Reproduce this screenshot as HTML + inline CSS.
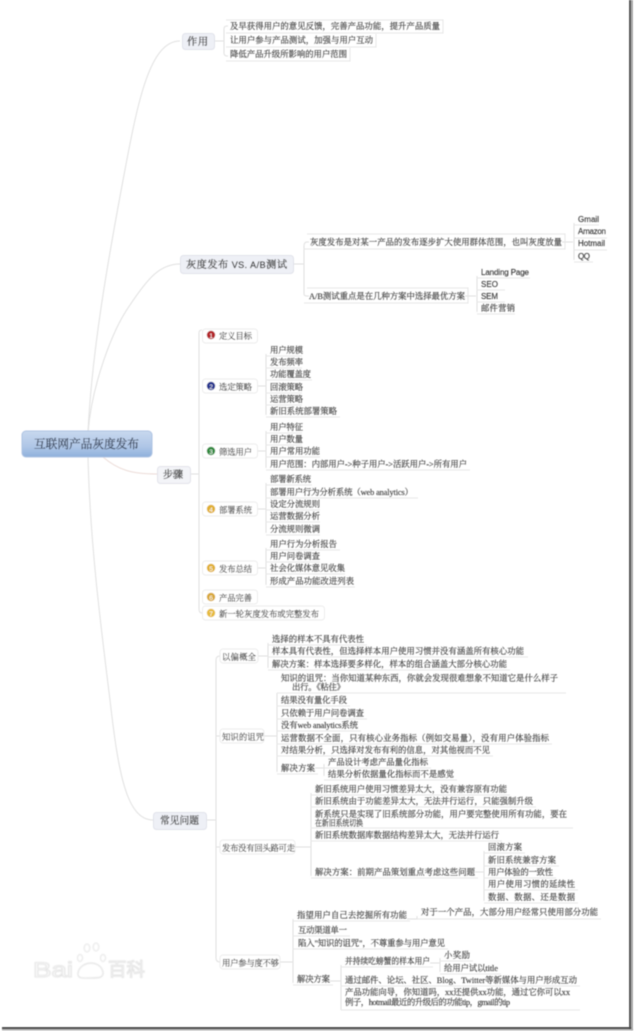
<!DOCTYPE html>
<html lang="zh"><head><meta charset="utf-8"><title>互联网产品灰度发布</title>
<style>
html,body{margin:0;padding:0;background:#fff;width:634px;height:1031px;overflow:hidden}
svg{display:block;position:absolute;left:0;top:0}
text{font-family:"Liberation Serif","Noto Serif CJK SC",serif;font-size:8.4px;fill:#3a3a3a;stroke:#555;stroke-width:.18}
.s{font-family:"Liberation Sans","Noto Sans CJK SC",sans-serif;font-size:8px;fill:#333}
.m{font-size:10.2px;fill:#333338;stroke-width:.35}
.r{font-size:11.700px;fill:#3d4a60;stroke:#3d4a60;stroke-width:.3}
.c{stroke:#e0e0e0;fill:none;stroke-width:1}
.u{stroke:#e6e6e6;fill:none;stroke-width:1}
.t{fill:#eef0f6;stroke:#e0e2ea;stroke-width:1}
.b{fill:#fff;stroke:#ececec;stroke-width:1}
.w{font-family:"Liberation Sans",sans-serif;fill:#fff;stroke:#e4e4e4;stroke-width:1}
</style></head><body>
<svg width="634" height="1031" viewBox="0 0 634 1031" xmlns="http://www.w3.org/2000/svg">
<defs>
<filter id="bl" x="-5%" y="-5%" width="110%" height="110%"><feGaussianBlur stdDeviation="0.45"/></filter>
<filter id="bl2" x="-5%" y="-5%" width="110%" height="110%"><feGaussianBlur stdDeviation="0.7"/></filter>
<linearGradient id="rg" x1="0" y1="0" x2="0" y2="1"><stop offset="0" stop-color="#c8d8ee"/><stop offset="0.6" stop-color="#afc6e6"/><stop offset="1" stop-color="#8fb0dc"/></linearGradient>
</defs>
<rect width="634" height="1031" fill="#fff"/>
<rect x="631" y="0" width="2" height="1030" fill="#a8a8a8" filter="url(#bl)"/>
<rect x="629" y="0" width="2.200" height="1029" fill="#555" filter="url(#bl)"/>
<rect x="2" y="1029" width="631" height="1.500" fill="#b0b0b0" filter="url(#bl)"/>
<rect x="2" y="1027" width="629" height="2.200" fill="#505050" filter="url(#bl)"/>

<g filter="url(#bl2)">
<text class="w" x="33" y="977" style="font-size:21px" textLength="40" lengthAdjust="spacingAndGlyphs">Bai</text>
<text class="w" x="108" y="976" style="font-size:18.500px;font-family:'Noto Sans CJK SC',sans-serif" textLength="37" lengthAdjust="spacingAndGlyphs">百科</text>
<path d="M78 973c2-12 22-14 25-1 1 6-5 6-12 6-8 0-14 1-13-5z" fill="#fff" stroke="#e2e2e2" stroke-width="1.200"/>
<ellipse cx="80" cy="958" rx="2.500" ry="3.500" fill="#fff" stroke="#e4e4e4"/><ellipse cx="87" cy="948" rx="2.800" ry="4" fill="#fff" stroke="#e4e4e4"/><ellipse cx="96" cy="947" rx="2.800" ry="4" fill="#fff" stroke="#e4e4e4"/><ellipse cx="103" cy="958" rx="2.500" ry="3.500" fill="#fff" stroke="#e4e4e4"/>
</g>

<g filter="url(#bl)">
<path class="c" d="M88 432C92 350 108 260 124 175C138 100 150 41 180 41"/>
<path class="c" d="M88 432C92 385 112 330 130 305C148 278 160 264 180 264"/>
<path class="c" style="stroke:#ecdcd8" d="M103 457C118 470 132 474 157 474"/>
<path class="c" d="M88 457C90 540 100 620 110 700C118 770 126 820 153 820"/>

<path class="c" d="M214 41H224M224 29V53M224 29q0-3 3-3h1M224 53q0 3 3 3h1"/>
<path class="c" d="M293 264H304M304 246V294M304 246q0-4 3-4h2M304 294q0 2 3 2h2"/>
<path class="c" d="M562 242H573M574 223V260"/>
<path class="c" d="M465 296H476M477 276V312"/>
<path class="c" d="M190 474H199M199 333V609M199 333q0-3 3-3M199 609q0 4 3 4"/>
<path class="c" d="M257 386H266M266 354V415"/>
<path class="c" d="M257 451H266M266 431V468"/>
<path class="c" d="M257 509H266M266 483V533"/>
<path class="c" d="M257 568H266M266 548V585"/>
<path class="c" d="M206 820H216M216 660V958M216 660q0-4 4-4M216 958q0 4 4 4M216 736h6M216 847h6"/>
<path class="c" d="M258 656H268M268 643V668"/>
<path class="c" d="M264 736H277M277 693V772"/>
<path class="c" d="M315 768H324M324 764V776"/>
<path class="c" d="M295 847H311M311 793V876"/>
<path class="c" d="M475 872H484M484 851V901"/>
<path class="c" d="M280 962H293M293 919V983"/>
<path class="c" d="M330 981H341M341 965V1010"/>
<path class="c" d="M430 963H440M440 958V972"/>
<path class="c" d="M407 919H417M417 916V919"/>

<path class="u" d="M226 33H443V20H226M226 47H376V34M226 61H350V48M304 249H565V234H307M304 303H468V288H307M574 225H599M574 238H607M574 250H607M574 262H593M477 278H530M477 290H505M477 302H505M477 314H515"/>
<path class="u" d="M266 356H302M266 368H302M266 380H312M266 393H302M266 405H302M266 417H340M266 433H302M266 445H302M266 457H320M266 470H470M266 485H312M266 498H418M266 510H320M266 522H320M266 535H320M266 550H340M266 562H320M266 574H345M266 587H355"/>
<path class="u" d="M268 645H367M268 657H528M268 670H510M277 693H566M277 706H350M277 719H367M277 731H361M277 744H552M277 756H493M277 774H318M324 768H431M324 780H457"/>
<path class="u" d="M311 795H510M311 807H536M311 828H573M311 841H502M311 878H478M484 853H525M484 866H559M484 878H556M484 890H578M484 903H578"/>
<path class="u" d="M293 921H410M417 919H601M293 936H350M293 949H448M293 985H333M341 967H433M440 961H473M440 974H501M341 986H580M341 1010H580"/>

<rect class="t" x="182.500" y="33.500" width="32" height="16" rx="3"/>
<rect class="t" x="180.500" y="255.500" width="113" height="18" rx="3"/>
<rect x="22" y="431" width="130" height="26" rx="4" fill="url(#rg)" stroke="#adc3e2"/>
<rect x="157.500" y="466.500" width="33" height="17" rx="3" fill="#f3f4f8" stroke="#e2e3ea"/>
<rect class="t" x="153.500" y="812.500" width="53" height="17" rx="3"/>

<rect class="b" x="202.500" y="329" width="55" height="14" rx="3"/>
<rect class="b" x="202.500" y="379" width="55" height="14" rx="3"/>
<rect class="b" x="202.500" y="444" width="55" height="14" rx="3"/>
<rect class="b" x="202.500" y="502" width="55" height="14" rx="3"/>
<rect class="b" x="202.500" y="561" width="55" height="14" rx="3"/>
<rect class="b" x="202.500" y="590" width="55" height="14" rx="3"/>
<rect class="b" x="202.500" y="606" width="122" height="14" rx="3"/>
<rect class="b" x="220" y="649" width="38" height="14" rx="3"/>
<rect class="b" x="220" y="729" width="44" height="14" rx="3"/>
<rect class="b" x="220" y="840" width="75" height="14" rx="3"/>
<rect class="b" x="220" y="955" width="60" height="14" rx="3"/>

<g>
<circle cx="211" cy="335" r="4.200" fill="#b4262c"/><text x="209.300" y="338" class="s" style="font-size:6.5px;fill:#fff;stroke:none">1</text>
<circle cx="211" cy="386" r="4.200" fill="#26358f"/><text x="209.300" y="389" class="s" style="font-size:6.5px;fill:#fff;stroke:none">2</text>
<circle cx="211" cy="451" r="4.200" fill="#2f8a3c"/><text x="209.300" y="454" class="s" style="font-size:6.5px;fill:#fff;stroke:none">3</text>
<circle cx="211" cy="509" r="4.200" fill="#e0b030"/><text x="209.300" y="512" class="s" style="font-size:6.5px;fill:#fff;stroke:none">4</text>
<circle cx="211" cy="568" r="4.200" fill="#e0b030"/><text x="209.300" y="571" class="s" style="font-size:6.5px;fill:#fff;stroke:none">5</text>
<circle cx="211" cy="597" r="4.200" fill="#d8a838"/><text x="209.300" y="600" class="s" style="font-size:6.5px;fill:#fff;stroke:none">6</text>
<circle cx="211" cy="613" r="4.200" fill="#e6bb3c"/><text x="209.300" y="616" class="s" style="font-size:6.5px;fill:#fff;stroke:none">7</text>
</g>

<text class="m" x="187" y="45" textLength="21">作用</text>
<text class="m" x="186" y="268" textLength="101">灰度发布 <tspan font-family="Liberation Sans" font-size="9">VS. A/B</tspan>测试</text>
<text class="r" x="34" y="448" textLength="105">互联网产品灰度发布</text>
<text class="m" x="163" y="478" textLength="20">步骤</text>
<text class="m" x="160" y="824" textLength="39" lengthAdjust="spacingAndGlyphs">常见问题</text>

<text x="230" y="29" textLength="210">及早获得用户的意见反馈，完善产品功能，提升产品质量</text>
<text x="230" y="43" textLength="143">让用户参与产品测试，加强与用户互动</text>
<text x="230" y="57" textLength="117">降低产品升级所影响的用户范围</text>
<text x="310" y="245" textLength="252">灰度发布是对某一产品的发布逐步扩大使用群体范围，也叫灰度放量</text>
<text x="309" y="299" textLength="156">A/B测试重点是在几种方案中选择最优方案</text>
<text class="s" x="578" y="222" textLength="21">Gmail</text>
<text class="s" x="578" y="234" textLength="28">Amazon</text>
<text class="s" x="578" y="246" textLength="27">Hotmail</text>
<text class="s" x="578" y="259" textLength="12">QQ</text>
<text class="s" x="481" y="275" textLength="48">Landing Page</text>
<text class="s" x="481" y="287" textLength="17">SEO</text>
<text class="s" x="481" y="299" textLength="17">SEM</text>
<text x="481" y="311" textLength="34">邮件营销</text>

<text x="219" y="339" textLength="33">定义目标</text>
<text x="219" y="390" textLength="33">选定策略</text>
<text x="219" y="455" textLength="33">筛选用户</text>
<text x="219" y="513" textLength="33">部署系统</text>
<text x="219" y="572" textLength="33">发布总结</text>
<text x="219" y="601" textLength="33">产品完善</text>
<text x="219" y="617" textLength="100">新一轮灰度发布或完整发布</text>

<text x="270" y="353" textLength="33">用户规模</text>
<text x="270" y="365" textLength="33">发布频率</text>
<text x="270" y="377" textLength="41">功能覆盖度</text>
<text x="270" y="390" textLength="33">回滚策略</text>
<text x="270" y="402" textLength="33">运营策略</text>
<text x="270" y="414" textLength="67">新旧系统部署策略</text>
<text x="270" y="430" textLength="33">用户特征</text>
<text x="270" y="442" textLength="33">用户数量</text>
<text x="270" y="454" textLength="50">用户常用功能</text>
<text x="270" y="467" textLength="197">用户范围：内部用户-&gt;种子用户-&gt;活跃用户-&gt;所有用户</text>
<text x="270" y="482" textLength="41">部署新系统</text>
<text x="270" y="495" textLength="143">部署用户行为分析系统（web analytics）</text>
<text x="270" y="507" textLength="50">设定分流规则</text>
<text x="270" y="519" textLength="50">运营数据分析</text>
<text x="270" y="532" textLength="50">分流规则微调</text>
<text x="270" y="547" textLength="67">用户行为分析报告</text>
<text x="270" y="559" textLength="50">用户问卷调查</text>
<text x="270" y="571" textLength="75">社会化媒体意见收集</text>
<text x="270" y="584" textLength="84">形成产品功能改进列表</text>

<text x="222" y="660" textLength="34">以偏概全</text>
<text x="272" y="642" textLength="92">选择的样本不具有代表性</text>
<text x="272" y="654" textLength="252">样本具有代表性，但选择样本用户使用习惯并没有涵盖所有核心功能</text>
<text x="272" y="667" textLength="235">解决方案：样本选择要多样化，样本的组合涵盖大部分核心功能</text>

<text x="222" y="740" textLength="42">知识的诅咒</text>
<text x="281" y="681" textLength="277">知识的诅咒：当你知道某种东西，你就会发现很难想象不知道它是什么样子</text>
<text x="292" y="690" textLength="53">出行。《粘住》</text>
<text x="281" y="703" textLength="66">结果没有量化手段</text>
<text x="281" y="716" textLength="83">只依赖于用户问卷调查</text>
<text x="281" y="728" textLength="77">没有web analytics系统</text>
<text x="281" y="741" textLength="268">运营数据不全面，只有核心业务指标（例如交易量），没有用户体验指标</text>
<text x="281" y="753" textLength="209">对结果分析，只选择对发布有利的信息，对其他视而不见</text>
<text x="281" y="771" textLength="34">解决方案</text>
<text x="328" y="765" textLength="100">产品设计考虑产品量化指标</text>
<text x="328" y="777" textLength="126">结果分析依据量化指标而不是感觉</text>

<text x="222" y="851" textLength="73">发布没有回头路可走</text>
<text x="315" y="792" textLength="192">新旧系统用户使用习惯差异太大，没有兼容原有功能</text>
<text x="315" y="804" textLength="218">新旧系统由于功能差异太大，无法并行运行，只能强制升级</text>
<text x="315" y="817" textLength="252">新系统只是实现了旧系统部分功能，用户要完整使用所有功能，要在</text>
<text x="315" y="826" textLength="48" lengthAdjust="spacingAndGlyphs">在新旧系统切换</text>
<text x="315" y="838" textLength="184">新旧系统数据库数据结构差异太大，无法并行运行</text>
<text x="315" y="875" textLength="160">解决方案：前期产品策划重点考虑这些问题</text>
<text x="488" y="850" textLength="34">回滚方案</text>
<text x="488" y="863" textLength="68">新旧系统兼容方案</text>
<text x="488" y="875" textLength="65">用户体验的一致性</text>
<text x="488" y="887" textLength="87">用户使用习惯的延续性</text>
<text x="488" y="900" textLength="87">数据、数据、还是数据</text>

<text x="222" y="966" textLength="57">用户参与度不够</text>
<text x="297" y="918" textLength="110">指望用户自己去挖掘所有功能</text>
<text x="421" y="915" textLength="177">对于一个产品，大部分用户经常只使用部分功能</text>
<text x="298" y="933" textLength="49">互动渠道单一</text>
<text x="298" y="946" textLength="147">陷入"知识的诅咒"，不尊重参与用户意见</text>
<text x="297" y="982" textLength="33">解决方案</text>
<text x="345" y="964" textLength="85" lengthAdjust="spacingAndGlyphs">并持续吃螃蟹的样本用户</text>
<text x="444" y="958" textLength="26">小奖励</text>
<text x="444" y="971" textLength="54">给用户试以title</text>
<text x="345" y="983" textLength="232">通过邮件、论坛、社区、Blog、Twitter等新媒体与用户形成互动</text>
<text x="345" y="995" textLength="225">产品功能向导，你知道吗，xx还提供xx功能，通过它你可以xx</text>
<text x="345" y="1005" textLength="165">例子，hotmail最近的升级后的功能tip，gmail的tip</text>
</g>
</svg>
</body></html>
